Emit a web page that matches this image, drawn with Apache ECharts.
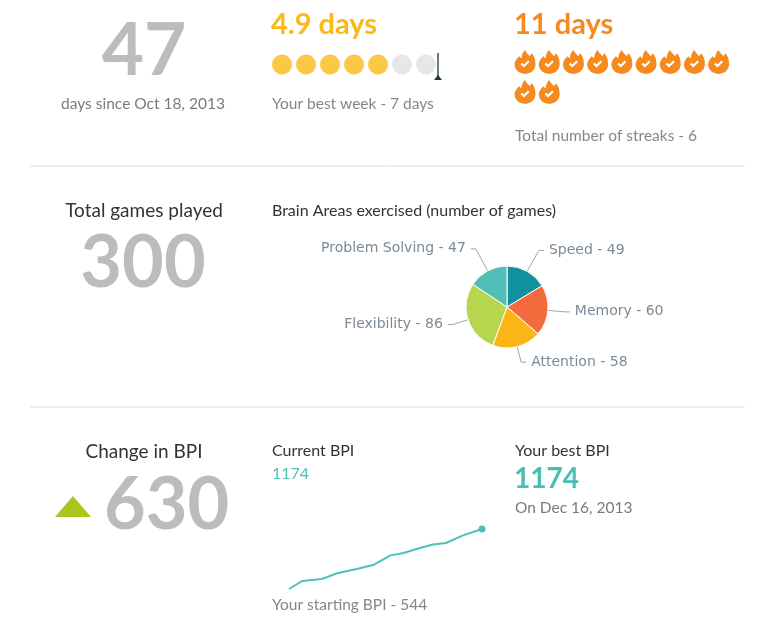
<!DOCTYPE html>
<html>
<head>
<meta charset="utf-8">
<script src="https://cdn.jsdelivr.net/npm/echarts@6/dist/echarts.min.js"></script>
<style>
html, body { margin: 0; padding: 0; background: #fff; }
#main { width: 770px; height: 626px; }
</style>
</head>
<body>
<div id="main"></div>
<script>
// values
var daysSince = 47;
var startDate = 'Oct 18, 2013';
var weekAvg = '4.9';
var weekDots = [1, 1, 1, 1, 1, 0, 0];
var bestWeek = 7;
var streakDays = 11;
var streakCount = 6;
var totalGames = 300;
var areaNames = ['Speed', 'Memory', 'Attention', 'Flexibility', 'Problem Solving'];
var areaGames = [49, 60, 58, 86, 47];
var areaColors = ['#11909e', '#f36a3d', '#fbb615', '#b8d54f', '#50bdb7'];
var bpiChange = 630;
var bpiDates = ['2013-10-18', '2013-10-22', '2013-10-28', '2013-11-02', '2013-11-08', '2013-11-13',
    '2013-11-18', '2013-11-22', '2013-11-27', '2013-12-01', '2013-12-05', '2013-12-10', '2013-12-16'];
var bpiValues = [544, 628, 649, 712, 757, 799, 897, 922, 975, 1012, 1027, 1104, 1174];
var bestDate = 'Dec 16, 2013';

var FONT = 'Lato, "Open Sans", sans-serif';
var flamePath = 'path://M10 0 C11 3 13 4 14 6 C15 5 15.5 4 15.5 3 C18 6 19 9 19 14.5 A9 9 0 0 1 1 14.5 C1 11 3 8 5 6 C6 7 6.5 8 7 8 C7 5 8 2 10 0 Z';
var checkPath = 'path://M4 14 L6 12 L8.5 14.5 L14 9 L16 11 L8.5 18.5 Z';
// label line lengths per slice, so the labels sit where they do in the picture
var pieLineLen = [24, 17, 16, 16, 25];

var myChart = echarts.init(document.getElementById('main'));

// 文字
function txt(text, x, y, size, color, align, weight) {
    return {
        type: 'text',
        style: {
            text: text, x: x, y: y,
            font: (weight || 'normal') + ' ' + size + 'px ' + FONT,
            fill: color,
            textAlign: align || 'left',
            textVerticalAlign: 'middle'
        }
    };
}

var dotData = [];
for (var i = 0; i < weekDots.length; i++) {
    dotData.push({
        value: [i, 0],
        itemStyle: { color: weekDots[i] ? '#fbb917' : '#e1e1e1' }
    });
}
var flameData = [];
for (var i = 0; i < streakDays; i++) {
    flameData.push([i % 9, Math.floor(i / 9)]);
}
var bpiData = [];
for (var i = 0; i < bpiDates.length; i++) {
    var item = { value: [bpiDates[i], bpiValues[i]] };
    if (i === bpiDates.length - 1) {
        item.symbol = 'circle';
        item.symbolSize = 7;
    }
    bpiData.push(item);
}

var pieData = [];
for (var i = 0; i < areaNames.length; i++) {
    pieData.push({
        name: areaNames[i],
        value: areaGames[i],
        itemStyle: { color: areaColors[i] },
        labelLine: { length: pieLineLen[i] }
    });
}

var graphics = [
    txt(String(daysSince), 144, 51, 73, '#bcbcbc', 'center', 'bold'),
    txt('days since ' + startDate, 143, 104, 15.5, '#7a7a7a', 'center'),
    txt(weekAvg + ' days', 271, 25, 29, '#fbb917', 'left', 'bold'),
    txt('Your best week - ' + bestWeek + ' days', 272, 104, 15.5, '#868686'),
    txt(streakDays + ' days', 514, 25, 29, '#f58a1f', 'left', 'bold'),
    txt('Total number of streaks - ' + streakCount, 515, 136, 15.5, '#868686'),
    { type: 'line', shape: { x1: 30, y1: 166, x2: 745, y2: 166 }, style: { stroke: '#dedede', lineWidth: 1 } },
    txt('Total games played', 144, 211, 19, '#333333', 'center'),
    txt(String(totalGames), 143, 264, 72, '#bcbcbc', 'center', 'bold'),
    txt('Brain Areas exercised (number of games)', 272, 211, 16, '#333333'),
    { type: 'line', shape: { x1: 30, y1: 407, x2: 745, y2: 407 }, style: { stroke: '#dedede', lineWidth: 1 } },
    txt('Change in BPI', 144, 452, 19, '#333333', 'center'),
    { type: 'polygon', shape: { points: [[55, 517], [73, 496], [91, 517]] }, style: { fill: '#a8c61b' } },
    txt(String(bpiChange), 104, 506, 72, '#bcbcbc', 'left', 'bold'),
    txt('Current BPI', 272, 451, 16, '#333333'),
    txt(String(bpiValues[bpiValues.length - 1]), 272, 474, 16, '#4fc0b9'),
    txt('Your best BPI', 515, 451, 16, '#333333'),
    txt(String(Math.max.apply(null, bpiValues)), 514, 479, 28, '#4bbdb4', 'left', 'bold'),
    txt('On ' + bestDate, 515, 508, 15.5, '#7a7a7a'),
    txt('Your starting BPI - ' + bpiValues[0], 272, 605, 15.5, '#868686')
];

var option = {
    animation: false,
    textStyle: { fontFamily: FONT },
    graphic: graphics,
    grid: [
        { left: 282, top: 53, width: 144, height: 27 },
        { left: 525, top: 62, width: 193.6, height: 30 },
        { left: 289, top: 529, width: 193, height: 60 }
    ],
    xAxis: [
        { gridIndex: 0, type: 'value', min: 0, max: 6, show: false },
        { gridIndex: 1, type: 'value', min: 0, max: 8, show: false },
        { gridIndex: 2, type: 'time', min: bpiDates[0], max: bpiDates[bpiDates.length - 1], show: false }
    ],
    yAxis: [
        { gridIndex: 0, type: 'value', min: -1.35, max: 1, show: false },
        { gridIndex: 1, type: 'value', min: 0, max: 1, inverse: true, show: false },
        { gridIndex: 2, type: 'value', min: bpiValues[0], max: Math.max.apply(null, bpiValues), show: false }
    ],
    series: [
        {
            type: 'scatter',
            xAxisIndex: 0, yAxisIndex: 0,
            symbol: 'circle',
            symbolSize: 20,
            data: dotData,
            silent: true
        },
        {
            type: 'scatter',
            xAxisIndex: 1, yAxisIndex: 1,
            symbol: flamePath,
            symbolSize: [21, 24],
            itemStyle: { color: '#f58a1f', opacity: 1 },
            data: flameData,
            silent: true
        },
        {
            type: 'scatter',
            xAxisIndex: 1, yAxisIndex: 1,
            symbol: checkPath,
            symbolSize: [9, 7],
            symbolOffset: [0, 2],
            itemStyle: { color: '#ffffff', opacity: 1 },
            data: flameData,
            silent: true
        },
        {
            type: 'pie',
            center: [507, 307],
            radius: 41,
            startAngle: 90,
            clockwise: true,
            data: pieData,
            itemStyle: { borderColor: '#fff', borderWidth: 1 },
            label: {
                formatter: '{b} - {c}',
                fontFamily: '"DejaVu Sans", Verdana, sans-serif',
                fontSize: 14,
                color: '#7b8a97'
            },
            labelLine: { length: 16, length2: 5, lineStyle: { color: '#9aa5ae', width: 1 } },
            silent: true
        },
        {
            type: 'line',
            xAxisIndex: 2, yAxisIndex: 2,
            symbol: 'none',
            showSymbol: true,
            data: bpiData,
            lineStyle: { color: '#4fc0b9', width: 2 },
            itemStyle: { color: '#4fc0b9' },
            silent: true
        }
    ]
};

myChart.setOption(option);

/* best week marker, placed through the dots' axis */
var mTop = myChart.convertToPixel({ gridIndex: 0 }, [bestWeek - 0.5, 1]);
var mBot = myChart.convertToPixel({ gridIndex: 0 }, [bestWeek - 0.5, -1.35]);
graphics.push({
    type: 'line',
    shape: { x1: mTop[0], y1: mTop[1], x2: mBot[0], y2: mBot[1] },
    style: { stroke: '#1f3440', lineWidth: 1.3 }
});
graphics.push({
    type: 'polygon',
    shape: { points: [[mBot[0] - 4, mBot[1]], [mBot[0], mBot[1] - 5], [mBot[0] + 4, mBot[1]]] },
    style: { fill: '#1f3440' }
});
myChart.setOption({ graphic: graphics });
</script>
</body>
</html>
